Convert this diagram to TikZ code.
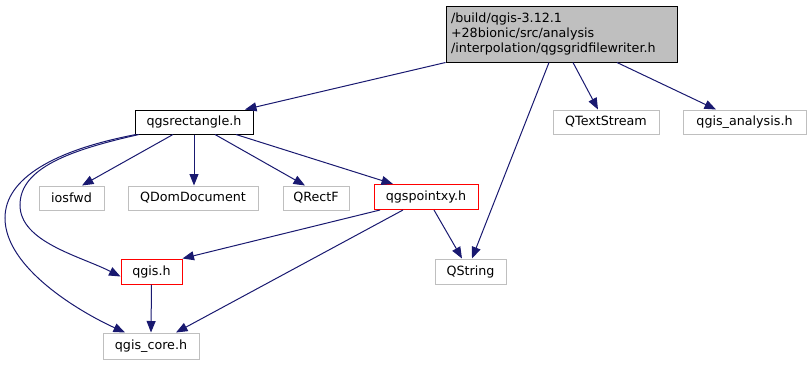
\documentclass[tikz,border=0pt]{standalone}
\usepackage{fontspec}
\setmainfont{DejaVu Sans}
\usetikzlibrary{arrows.meta}
\definecolor{edge}{HTML}{191970}
\definecolor{gborder}{HTML}{BFBFBF}
\definecolor{topfill}{HTML}{BFBFBF}
\definecolor{redb}{HTML}{FF0000}
\begin{document}
\begin{tikzpicture}[x=1pt,y=-1pt,
  every node/.style={font=\fontsize{12.7}{14.6}\selectfont, inner sep=0pt, line width=1pt},
  ext/.style={draw=gborder},
  redn/.style={draw=redb},
  blk/.style={draw=black},
  arr/.style={draw=edge, line width=1pt, -{Triangle[length=11.5pt,width=9pt]}}]
\useasboundingbox (0,0) rectangle (812,365);
\node[draw=black, fill=topfill, minimum width=231, minimum height=56, align=left, text width=221] (top) at (561.5,34) {/build/qgis-3.12.1\\+28bionic/src/analysis\\/interpolation/qgsgridfilewriter.h};
\node[blk, minimum width=118, minimum height=24] (rect) at (194,122) {qgsrectangle.h};
\node[ext, minimum width=106, minimum height=24] (qts) at (606,122) {QTextStream};
\node[ext, minimum width=123, minimum height=24] (qan) at (744.5,122) {qgis\_analysis.h};
\node[ext, minimum width=65, minimum height=24] (ios) at (71.5,198) {iosfwd};
\node[ext, minimum width=130, minimum height=24] (qdom) at (193,198) {QDomDocument};
\node[ext, minimum width=66, minimum height=24] (qrf) at (316,198) {QRectF};
\node[redn, minimum width=104, minimum height=25] (qpt) at (426,197) {qgspointxy.h};
\node[ext, minimum width=71, minimum height=25] (qstr) at (470.5,271.5) {QString};
\node[redn, minimum width=61, minimum height=25] (qgis) at (151.5,271.5) {qgis.h};
\node[ext, minimum width=96, minimum height=26] (core) at (151,346) {qgis\_core.h};

\draw[arr] (top.south west) -- ([xshift=51]rect.north);
\draw[arr] ([xshift=-12.5]top.south) -- ([xshift=1.5]qstr.north);
\draw[arr] ([xshift=11.5]top.south) -- ([xshift=-8]qts.north);
\draw[arr] ([xshift=55.5]top.south) -- ([xshift=-28.5]qan.north);
\draw[arr] ([xshift=-21]rect.south) -- ([xshift=10.5]ios.north);
\draw[arr] (rect.south) -- (rect.south |- qdom.north);
\draw[arr] ([xshift=21]rect.south) -- ([xshift=-11]qrf.north);
\draw[arr] ([xshift=42]rect.south) -- ([xshift=-33]qpt.north);
\draw[arr] ([xshift=-55]rect.south) .. controls (70,150) and (20,168) .. (20,205) .. controls (20,242) and (80,256) .. ([yshift=-5]qgis.west);
\draw[arr] ([xshift=-58]rect.south) .. controls (55,150) and (5,178) .. (5,218) .. controls (5,268) and (80,312) .. ([xshift=-26]core.north);
\draw[arr] ([xshift=-46]qpt.south) -- (qgis.north east);
\draw[arr] ([xshift=-23]qpt.south) -- ([xshift=25]core.north);
\draw[arr] ([xshift=8]qpt.south) -- ([xshift=-8.5]qstr.north);
\draw[arr] (qgis.south) -- (core.north);
\end{tikzpicture}
\end{document}
